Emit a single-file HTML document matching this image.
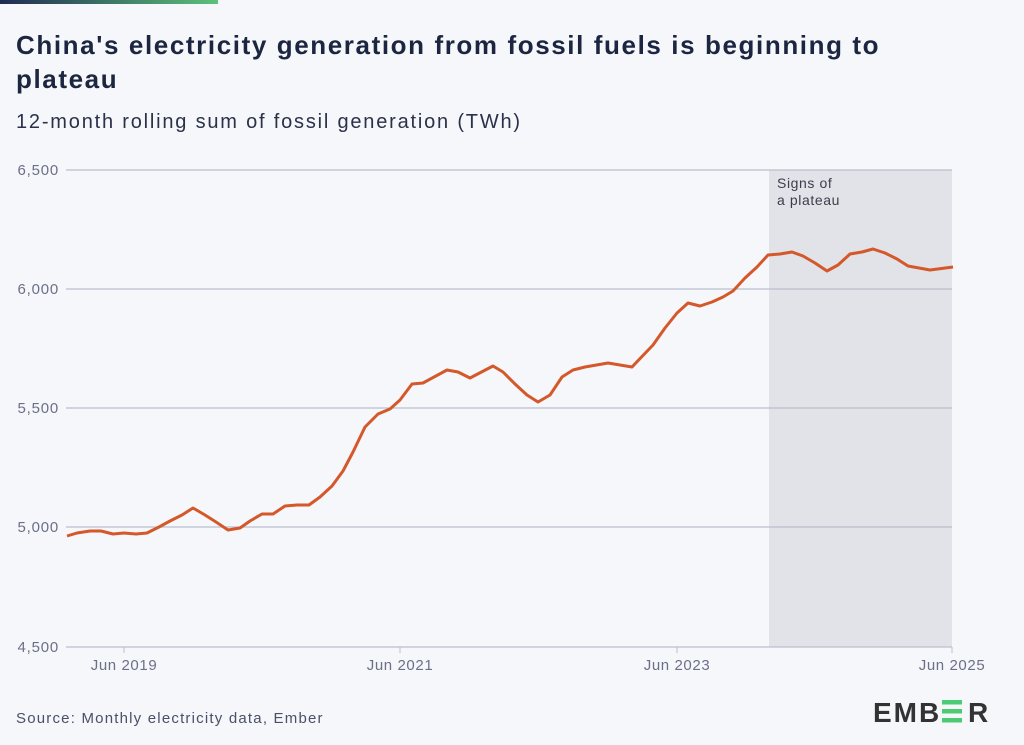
<!DOCTYPE html>
<html><head><meta charset="utf-8"><style>
body{margin:0;background:#f5f7fb;}
svg{display:block;font-family:"Liberation Sans",sans-serif;}
</style></head><body>
<svg width="1024" height="745" viewBox="0 0 1024 745">
<defs><linearGradient id="g" x1="0" x2="1"><stop offset="0" stop-color="#1f2a52"/><stop offset="1" stop-color="#5cc27a"/></linearGradient></defs>
<rect width="1024" height="745" fill="#f5f7fb"/>
<rect x="0" y="0" width="218" height="4" fill="url(#g)"/>
<text x="16" y="54" font-size="26" font-weight="bold" fill="#1c2640" letter-spacing="1.6">China's electricity generation from fossil fuels is beginning to</text>
<text x="16" y="88" font-size="26" font-weight="bold" fill="#1c2640" letter-spacing="1.6">plateau</text>
<text x="16" y="128" font-size="20" fill="#2b3148" letter-spacing="1.8">12-month rolling sum of fossil generation (TWh)</text>
<rect x="769" y="170" width="183" height="477" fill="#e1e3e8"/>
<g stroke="#b9bfcc" stroke-width="1.3">
<line x1="66" y1="170" x2="952" y2="170"/>
<line x1="66" y1="289" x2="952" y2="289"/>
<line x1="66" y1="408" x2="952" y2="408"/>
<line x1="66" y1="527" x2="952" y2="527"/>
<line x1="66" y1="647" x2="952" y2="647"/>
</g>
<g font-size="15" fill="#6b7088" text-anchor="end" letter-spacing="0.8">
<text x="59" y="175">6,500</text>
<text x="59" y="294">6,000</text>
<text x="59" y="413">5,500</text>
<text x="59" y="532">5,000</text>
<text x="59" y="652">4,500</text>
</g>
<g stroke="#b9bfcc" stroke-width="1"><line x1="124" y1="647" x2="124" y2="653"/><line x1="400" y1="647" x2="400" y2="653"/><line x1="677" y1="647" x2="677" y2="653"/><line x1="952" y1="647" x2="952" y2="653"/></g>
<g font-size="15" fill="#6b7088" text-anchor="middle" letter-spacing="0.6">
<text x="124" y="670">Jun 2019</text>
<text x="400" y="670">Jun 2021</text>
<text x="677" y="670">Jun 2023</text>
<text x="952" y="670">Jun 2025</text>
</g>
<text x="777" y="188" font-size="14" fill="#3a3e4a" letter-spacing="0.6">Signs of</text>
<text x="777" y="205" font-size="14" fill="#3a3e4a" letter-spacing="0.6">a plateau</text>
<polyline fill="none" stroke="#d4582a" stroke-width="3" stroke-linejoin="round" points="67,536 77,533 90,531 101,531 113,534 124,533 136,534 147,533 159,527 170,521 182,515 193,508 205,515 216,522 228,530 240,528 250,521 262,514 273,514 285,506 297,505 309,505 320,497 332,486 343,471 353,452 365,427 378,414 390,409 400,400 412,384 423,383 447,370 458,372 470,378 493,366 503,372 515,384 527,395 538,402 550,395 562,377 573,370 585,367 608,363 632,367 653,345 665,328 677,313 688,303 700,306 712,302 723,297 733,291 745,278 757,267 768,255 780,254 792,252 803,256 815,263 827,271 838,265 850,254 862,252 873,249 885,253 897,259 908,266 930,270 953,267"/>
<text x="16" y="723" font-size="15" fill="#4a5068" letter-spacing="1.2">Source: Monthly electricity data, Ember</text>
<g font-size="28" font-weight="bold" fill="#333" letter-spacing="2">
<text x="873" y="722">EMB</text>
<text x="968" y="722">R</text>
</g>
<g fill="#4ccb74"><rect x="942" y="700" width="20" height="4.5"/><rect x="942" y="709" width="20" height="4.5"/><rect x="942" y="718" width="20" height="4.5"/></g>
</svg>
</body></html>
